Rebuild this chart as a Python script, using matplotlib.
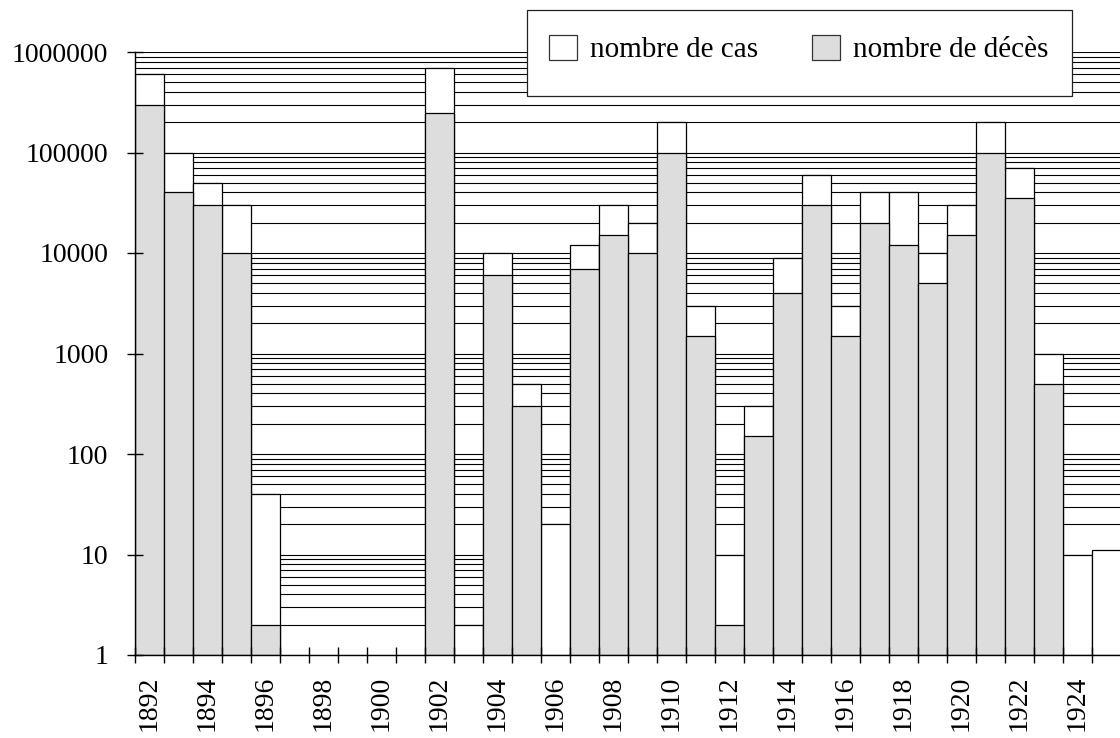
import numpy as np
import matplotlib
matplotlib.use("Agg")
import matplotlib.pyplot as plt
from matplotlib.patches import Patch, Rectangle
from matplotlib.ticker import FixedLocator, FuncFormatter, NullFormatter

plt.rcParams['font.family'] = ['Liberation Serif', 'DejaVu Serif']
plt.rcParams['font.size'] = 20

nan = np.nan
years = list(range(1892, 1926))
cases = [600000, 100000, 50000, 30000, 40, nan, nan, nan, nan, nan,
         700000, 2, 10000, 500, 20, 12000, 30000, 20000, 200000, 3000,
         10, 300, 9000, 60000, 3000, 40000, 40000, 10000, 30000, 200000,
         70000, 1000, 10, 11]
deaths = [300000, 40000, 30000, 10000, 2, nan, nan, nan, nan, nan,
          250000, nan, 6000, 300, nan, 7000, 15000, 10000, 100000, 1500,
          2, 150, 4000, 30000, 1500, 20000, 12000, 5000, 15000, 100000,
          35000, 500, nan, nan]
labels = ["nombre de cas", "nombre de décès"]
y_ticks = [1, 10, 100, 1000, 10000, 100000, 1000000]

W, H = 1120, 738
fig = plt.figure(figsize=(W / 100, H / 100), dpi=100)
ax = fig.add_axes([135/W, 83/H, 985/W, 603/H])
ax.set_yscale('log')
ax.set_ylim(1, 1e6)
ax.set_xlim(0, 985/29)

# gridlines behind bars
for n in range(0, 6):
    for k in range(1, 10):
        ax.axhline(k * 10**n, color='black', lw=0.8, zorder=0.5)
ax.axhline(1e6, color='black', lw=0.8, zorder=0.5)

x = np.arange(len(years))
c = np.array(cases, dtype=float)
d = np.array(deaths, dtype=float)
mc = ~np.isnan(c)
md = ~np.isnan(d)
ax.bar(x[mc], c[mc] - 1, bottom=1, width=1, align='edge', color='white',
       edgecolor='black', linewidth=0.9, zorder=1)
ax.bar(x[md], d[md] - 1, bottom=1, width=1, align='edge', color='#dddddd',
       edgecolor='black', linewidth=0.9, zorder=1.1)

for s in ['top', 'right']:
    ax.spines[s].set_visible(False)
for s in ['left', 'bottom']:
    ax.spines[s].set_linewidth(1.0)
    ax.spines[s].set_zorder(3)

ax.yaxis.set_major_locator(FixedLocator(y_ticks))
ax.yaxis.set_major_formatter(FuncFormatter(lambda v, p: f"{int(round(v))}"))
ax.yaxis.set_minor_locator(FixedLocator([]))
ax.yaxis.set_minor_formatter(NullFormatter())
ax.tick_params(axis='y', which='major', direction='inout', length=11.5,
               width=1.0, pad=13.5, labelsize=20)

ax.xaxis.set_major_locator(FixedLocator(np.arange(len(years) + 1)))
ax.xaxis.set_major_formatter(NullFormatter())
lab_pos = x[::2] + 0.5
ax.xaxis.set_minor_locator(FixedLocator(lab_pos))
ax.xaxis.set_minor_formatter(FuncFormatter(lambda v, p: str(years[int(v)])))
ax.tick_params(axis='x', which='major', direction='inout', length=11.5, width=1.0)
ax.tick_params(axis='x', which='minor', length=0, pad=15, labelsize=20,
               labelrotation=90)
for t in ax.xaxis.get_minor_ticks():
    t.label1.set_va('top')

# legend frame
frame = Rectangle((527/W, 1 - 96/H), (1072 - 527)/W, (96 - 10)/H,
                  transform=fig.transFigure, facecolor='white',
                  edgecolor='#222222', lw=0.9, zorder=4)
fig.add_artist(frame)

handles = [Patch(facecolor='white', edgecolor='#333333', lw=0.9),
           Patch(facecolor='#dddddd', edgecolor='#333333', lw=0.9)]
leg = fig.legend(handles, labels, loc='center left',
                 bbox_to_anchor=(549/W, 1 - 49/H), borderaxespad=0,
                 ncol=2, frameon=False, handlelength=0.96, handleheight=0.96,
                 handletextpad=0.45, columnspacing=1.85, borderpad=0,
                 fontsize=21)
leg.set_zorder(5)

fig.savefig("out.png", dpi=100)
